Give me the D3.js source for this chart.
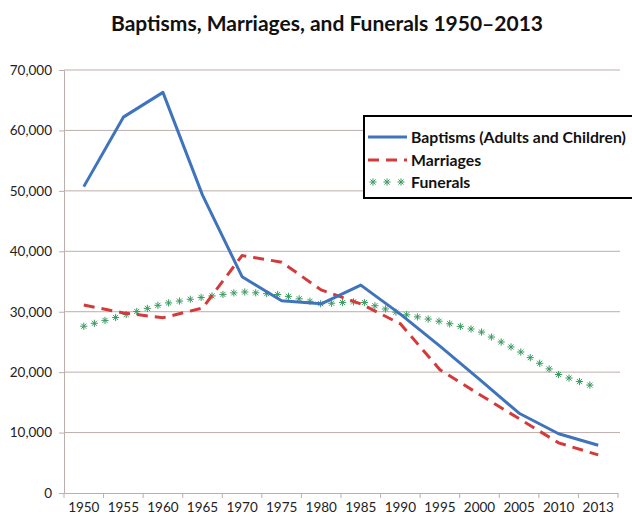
<!DOCTYPE html>
<html><head><meta charset="utf-8">
<script src="https://cdn.jsdelivr.net/npm/d3@7"></script>
<style>html,body{margin:0;padding:0;background:#fff;}svg{display:block;}</style>
</head><body><svg id="c" width="632" height="518"></svg>
<script>
const years = ["1950","1955","1960","1965","1970","1975","1980","1985","1990","1995","2000","2005","2010","2013"];
const baptisms = [50700,62200,66300,49300,35800,31800,31300,34400,29600,24300,18800,13200,9800,7900];
const marriages = [31100,29800,29000,30600,39300,38200,33600,31300,28000,20400,16300,12300,8300,6300];
const funerals = [27600,29400,31300,32400,33300,32800,31300,31700,29700,28400,26800,23500,19600,17400];
const yTicks = [0,10000,20000,30000,40000,50000,60000,70000];
const seriesNames = ["Baptisms (Adults and Children)","Marriages","Funerals"];
const titleText = "Baptisms, Marriages, and Funerals 1950\u20132013";

const svg = d3.select("#c");
const font = "Lato, 'Open Sans', sans-serif";
const L=64, R=618, T=70, B=493;
const x = d3.scaleBand().domain(years).range([L,R]).padding(0);
const y = d3.scaleLinear().domain([0,70000]).range([B,T]);
const cx = d => x(d)+x.bandwidth()/2;
const grid="#bcaeac";

// title
svg.append("text").attr("x",327).attr("y",31).attr("text-anchor","middle")
  .attr("font-family",font).attr("font-weight","bold").attr("font-size",21)
  .attr("fill","#111").text(titleText);

// gridlines
svg.append("g").selectAll("line").data(yTicks.filter(v=>v>0)).join("line")
  .attr("x1",L).attr("x2",R+2).attr("y1",d=>y(d)).attr("y2",d=>y(d))
  .attr("stroke",grid).attr("stroke-width",1);

// y axis
const ya = svg.append("g").attr("transform",`translate(${L},0)`)
  .call(d3.axisLeft(y).tickValues(yTicks).tickFormat(d3.format(",")).tickSize(5).tickSizeOuter(0));
ya.select(".domain").attr("stroke",grid);
ya.selectAll(".tick line").attr("stroke",grid);
ya.selectAll("text").attr("font-family",font).attr("font-size",13.5).attr("fill","#222").attr("x",-12);

// x axis
const xa = svg.append("g").attr("transform",`translate(0,${B})`)
  .call(d3.axisBottom(x).tickSize(0).tickSizeOuter(0));
xa.select(".domain").attr("stroke",grid);
xa.selectAll("text").attr("font-family",font).attr("font-size",13.5).attr("fill","#222").attr("dy","1.2em");
xa.selectAll("line.b").data(years.concat(["end"])).join("line").attr("class","b")
  .attr("x1",(d,i)=>L+i*x.bandwidth()).attr("x2",(d,i)=>L+i*x.bandwidth())
  .attr("y1",0).attr("y2",5).attr("stroke",grid);

const line = d3.line().x((d,i)=>cx(years[i])).y(d=>y(d));

// funerals asterisks
const fpath = svg.append("path").attr("d",line(funerals)).attr("fill","none").attr("stroke","none");
const node = fpath.node(); const len = node.getTotalLength();
function asterisk(g, px, py, r){
  for(let k=0;k<4;k++){
    const a = k*Math.PI/4;
    g.append("line").attr("x1",px-r*Math.cos(a)).attr("y1",py-r*Math.sin(a))
     .attr("x2",px+r*Math.cos(a)).attr("y2",py+r*Math.sin(a))
     .attr("stroke","#3a9a60").attr("stroke-width",1);
  }
}
const fg = svg.append("g");
for(let s=0;s<=len;s+=11){ const p=node.getPointAtLength(s); asterisk(fg,p.x,p.y,3.6); }

// marriages
svg.append("path").attr("d",line(marriages)).attr("fill","none")
  .attr("stroke","#d23b3a").attr("stroke-width",3).attr("stroke-dasharray","11,7");
// baptisms
svg.append("path").attr("d",line(baptisms)).attr("fill","none")
  .attr("stroke","#3f74bd").attr("stroke-width",3).attr("stroke-linejoin","round");

// legend
const lg = svg.append("g");
lg.append("rect").attr("x",364).attr("y",116).attr("width",300).attr("height",82)
  .attr("fill","#fff").attr("stroke","#000").attr("stroke-width",2);
const ly=[137,160,182];
lg.append("line").attr("x1",368).attr("x2",407).attr("y1",ly[0]).attr("y2",ly[0]).attr("stroke","#3f74bd").attr("stroke-width",3);
lg.append("line").attr("x1",368).attr("x2",407).attr("y1",ly[1]).attr("y2",ly[1]).attr("stroke","#d23b3a").attr("stroke-width",3).attr("stroke-dasharray","11,7");
[373,387,401].forEach(px=>asterisk(lg,px,ly[2],3.6));
lg.selectAll("text").data(seriesNames).join("text")
  .attr("x",411).attr("y",(d,i)=>ly[i]).attr("dy","0.35em")
  .attr("font-family",font).attr("font-weight","bold").attr("font-size",15.8).attr("fill","#111").text(d=>d);
</script></body></html>
